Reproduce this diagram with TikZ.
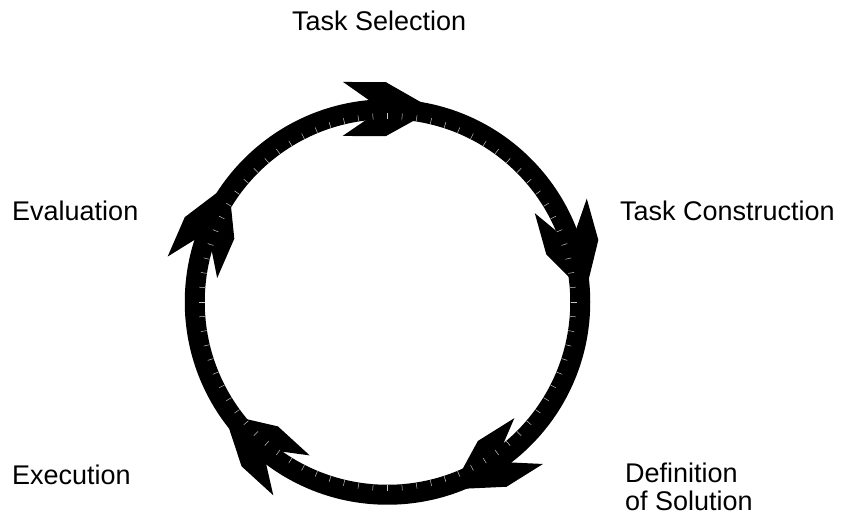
\documentclass[tikz,border=0pt]{standalone}
\usepackage{fontspec}
\setmainfont{Liberation Sans}
\begin{document}
\begin{tikzpicture}[x=1pt,y=1pt,
  lbl/.style={font=\fontsize{27}{28}\selectfont, inner sep=0pt, anchor=base west, align=left},
  headshape/.style={fill=black},
  ring/.style={draw=black, line width=20pt},
  tick/.style={draw=gray!45, line width=0.5pt}]
\useasboundingbox (0,0) rectangle (844,516);
\coordinate (C) at (387.5,214);
\draw[ring] (C) circle (192.75);
\foreach \t in {89.6,15.6,-58,-132.4,156.5}{
  \begin{scope}[shift={(C)}, rotate=\t, shift={(192.75,0)}, rotate=-90]
    \fill[headshape] (45,0) -- (-3,27) -- (-46,27) -- (-20,9) -- (-20,-9) -- (-46,-27) -- (-3,-27) -- cycle;
  \end{scope}
}
\foreach \a in {0,4.5,...,356}{
  \draw[tick] ([shift={(\a:183)}]C) -- ([shift={(\a:189)}]C);
}
\node[lbl] (sel) at (292,485) {Task Selection};
\node[lbl] (con) at (620,295) {Task Construction};
\node[lbl] (eva) at (12,295) {Evaluation};
\node[lbl] (exe) at (12,31) {Execution};
\node[lbl] (def1) at (625,33) {Definition};
\node[lbl] (def2) at (625,5) {of Solution};
\end{tikzpicture}
\end{document}
